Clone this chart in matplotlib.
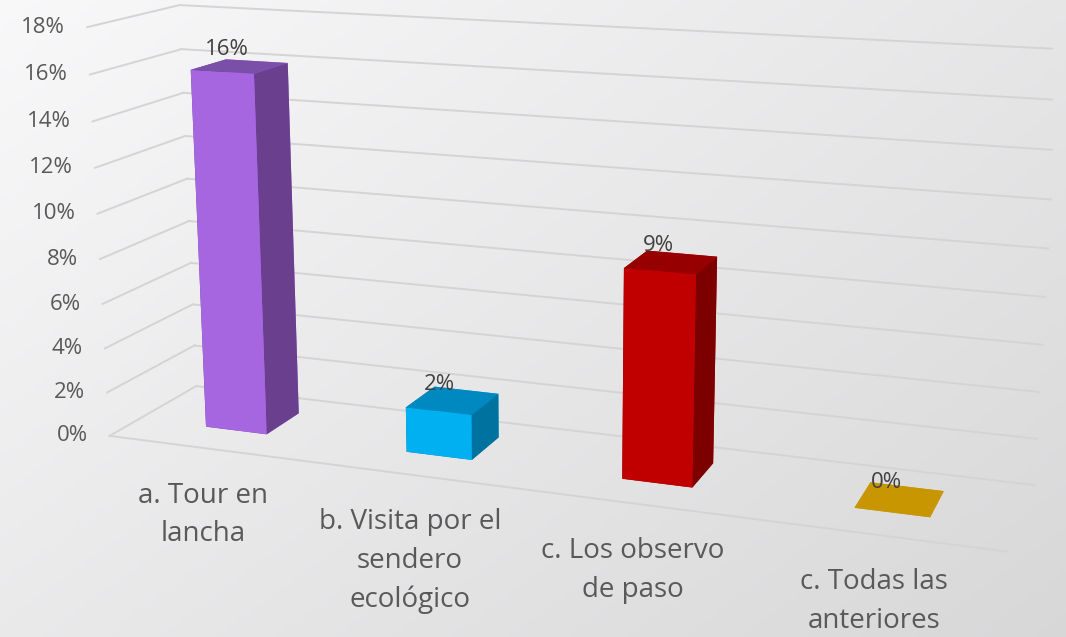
import numpy as np
import matplotlib.pyplot as plt
from mpl_toolkits.mplot3d import proj3d

plt.rcParams['font.family'] = ['Open Sans', 'DejaVu Sans']

categories = ['a. Tour en\nlancha', 'b. Visita por el\nsendero\necológico',
              'c. Los observo\nde paso', 'c. Todas las\nanteriores']
values = [0.16, 0.02, 0.09, 0.0]
value_labels = ['16%', '2%', '9%', '0%']
z_ticks = [0.0, 0.02, 0.04, 0.06, 0.08, 0.10, 0.12, 0.14, 0.16, 0.18]
tick_labels = ['0%', '2%', '4%', '6%', '8%', '10%', '12%', '14%', '16%', '18%']

# front, side and top colours of each bar
front_col = ['#a566e0', '#00b0f0', '#c00000', '#c89600']
side_col = ['#6a3f8e', '#0072a0', '#7d0000', '#c89600']
top_col = ['#7a4fa8', '#0088c0', '#960000', '#c89600']

fig = plt.figure(figsize=(10.66, 6.37), dpi=100)

# soft grey backdrop, lighter at the top left
bg = fig.add_axes([0, 0, 1, 1])
gx, gy = np.meshgrid(np.linspace(0, 1, 300), np.linspace(0, 1, 200))
shade = 0.975 - 0.13 * (0.55 * gx + 0.45 * gy)
bg.imshow(np.dstack([shade, shade, shade * 1.005]).clip(0, 1), extent=[0, 1, 0, 1],
          aspect='auto', origin='upper')
bg.axis('off')

ax = fig.add_axes([0.0298, -0.2223, 0.9584, 1.6038], projection='3d')
ax.patch.set_alpha(0)

xmin, xmax = -0.5, 3.5
ymin, ymax = 0.0, 1.0
zmax = 0.18
ax.set_xlim(xmin, xmax)
ax.set_ylim(ymin, ymax)
ax.set_zlim(0, zmax)
ax.view_init(elev=14.1, azim=-70.0)
ax.set_proj_type('persp', focal_length=0.38)
ax.set_box_aspect((4, 0.783, 1.849), zoom=1)

for a in (ax.xaxis, ax.yaxis, ax.zaxis):
    a.set_pane_color((1, 1, 1, 0))
    a.line.set_color((0, 0, 0, 0))
ax.set_xticks([])
ax.set_yticks([])
ax.set_zticks([])
ax.grid(False)

M = ax.get_proj()


def flat(x, y, z):
    # where a 3d point lands in the axes' 2d space
    px, py, _ = proj3d.proj_transform(x, y, z, M)
    return px, py


grid_col = '#d4d4d4'
for t, lab in zip(z_ticks, tick_labels):
    ax.plot([xmin, xmin], [ymin, ymax], [t, t], color=grid_col, lw=1.4)
    ax.plot([xmin, xmax], [ymax, ymax], [t, t], color=grid_col, lw=1.4)
    ax.annotate(lab, xy=flat(xmin, ymin, t), xytext=(-22, 0), textcoords='offset pixels',
                ha='right', va='center', fontsize=16, color='#595959',
                annotation_clip=False, zorder=100)
ax.plot([xmin, xmax], [ymin, ymin], [0, 0], color=grid_col, lw=1.4)

bw, y0, bd = 0.31, 0.334, 0.407
for i, v in enumerate(values):
    faces = [top_col[i], top_col[i], front_col[i], front_col[i], side_col[i], side_col[i]]
    ax.bar3d(i - bw / 2, y0, 0, bw, bd, v, color=faces, shade=False)
    ax.annotate(value_labels[i], xy=flat(i, y0 + bd / 2, v), xytext=(-13, 6),
                textcoords='offset pixels', ha='center', va='bottom',
                fontsize=16, color='#404040', annotation_clip=False, zorder=100)
    ax.annotate(categories[i], xy=flat(i, ymin, 0), xytext=(-5, -33),
                textcoords='offset pixels', ha='center', va='top',
                fontsize=20, color='#595959', linespacing=1.5,
                annotation_clip=False, zorder=100)

fig.savefig('out.png', dpi=100)
